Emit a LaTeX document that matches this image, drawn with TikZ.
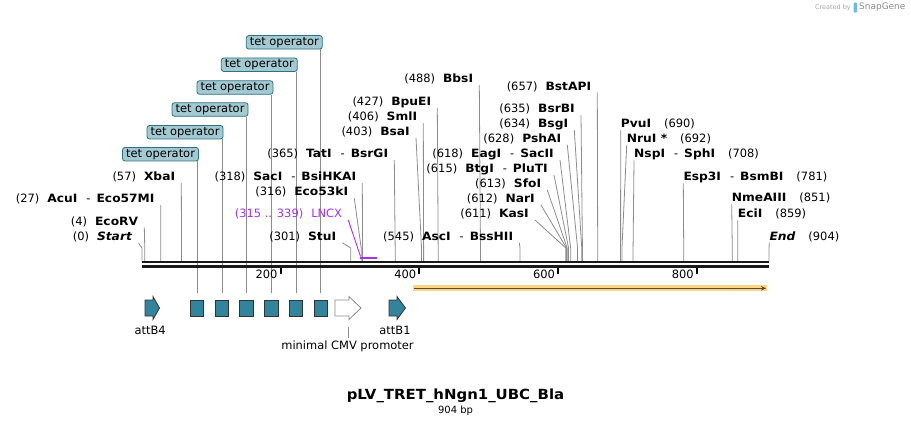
\documentclass[tikz,border=0pt]{standalone}
\usepackage{fontspec}
\setmainfont{DejaVu Sans}[BoldFeatures={FakeStretch=1.07},BoldItalicFeatures={FakeStretch=1.07}]
\usetikzlibrary{calc,arrows.meta}
\definecolor{tetfill}{HTML}{A3C9D2}
\definecolor{tetdraw}{HTML}{2E6F80}
\definecolor{featfill}{HTML}{31849B}
\definecolor{lncx}{HTML}{A330F0}
\definecolor{orfill}{HTML}{FDD584}
\definecolor{orline}{HTML}{5A4A35}
\definecolor{cutline}{HTML}{8C8C8C}
\definecolor{sglogo}{HTML}{6CB8E8}
\newcommand{\bx}[1]{142+#1*0.6936}
\newcommand{\lgap}{\hspace{8bp}}
\newcommand{\rgap}{\hspace{13bp}}
\newcommand{\dsh}{\hspace{9bp}-\hspace{6bp}}
% left labels: name, bp, top of line x, y, text
\newcommand{\enzl}[5]{%
  \coordinate (#1s) at ({\bx{#2}},261);
  \node[lab,anchor=east] (#1) at (#3-6,#4) {#5};
  \draw[cut] ($(#1.east)+(6,6)$) -- ($(#1s)+(0,-13)$) -- (#1s);}
% right labels
\newcommand{\enzr}[5]{%
  \coordinate (#1s) at ({\bx{#2}},261);
  \node[lab,anchor=west] (#1) at (#3,#4) {#5};
  \draw[cut] ($(#1.west)+(0,6)$) -- ($(#1s)+(0,-13)$) -- (#1s);}
\begin{document}
\begin{tikzpicture}[x=1bp,y=-1bp,>=stealth,
  lab/.style={inner sep=0pt,font=\fontsize{11.5}{13}\selectfont},
  cut/.style={draw=cutline,line width=0.8bp},
  tet/.style={draw=tetdraw,fill=tetfill,rounded corners=2.5bp,minimum width=76bp,
    minimum height=13.5bp,inner sep=0pt,line width=0.8bp,font=\fontsize{11.5}{13}\selectfont},
  sqr/.style={draw=black!80,fill=featfill,minimum width=13.5bp,minimum height=16bp,
    inner sep=0pt,line width=0.8bp},
  feat/.style={draw=black!80,fill=featfill,line width=0.8bp},
  bb/.style={line width=2.4bp,black!90}]
\useasboundingbox (0,0) rectangle (911,427);
% tet operators
\foreach \i/\tx/\ty/\qx in {1/160.5/154.2/197,2/185/132.2/222,3/210/109.5/246.3,
  4/235/87.5/271.3,5/259.3/64.7/296,6/284.3/42.3/320.8}{
  \node[tet] (t\i) at (\tx,\ty) {tet operator};
  \node[sqr] (q\i) at (\qx,308) {};
  \draw[cut,shorten >=7bp] (t\i.south -| q\i.north) -- (q\i.north);
}
% enzymes
\enzl{st}{0}{138.5}{237}{(0)\lgap\textbf{\textit{Start}}}
\enzl{ecorv}{4}{144.3}{221.5}{(4)\lgap\textbf{EcoRV}}
\enzl{acui}{27}{160.7}{199}{(27)\lgap\textbf{AcuI}\dsh\textbf{Eco57MI}}
\enzl{xbai}{57}{181.3}{177}{(57)\lgap\textbf{XbaI}}
\enzl{saci}{318}{362.3}{177}{(318)\lgap\textbf{SacI}\dsh\textbf{BsiHKAI}}
\enzl{eco53}{316}{354.3}{192.3}{(316)\lgap\textbf{Eco53kI}}
\enzl{stui}{301}{342.3}{236.7}{(301)\lgap\textbf{StuI}}
\enzl{tati}{365}{394.3}{154}{(365)\lgap\textbf{TatI}\dsh\textbf{BsrGI}}
\enzl{bsai}{403}{416}{131.7}{(403)\lgap\textbf{BsaI}}
\enzl{smli}{406}{423.3}{117}{(406)\lgap\textbf{SmlI}}
\enzl{bpuei}{427}{437.3}{102}{(427)\lgap\textbf{BpuEI}}
\enzl{bbsi}{488}{479.3}{79}{(488)\lgap\textbf{BbsI}}
\enzl{asci}{545}{519.3}{236.7}{(545)\lgap\textbf{AscI}\dsh\textbf{BssHII}}
\enzl{kasi}{611}{535}{214}{(611)\lgap\textbf{KasI}}
\enzl{nari}{612}{541}{199}{(612)\lgap\textbf{NarI}}
\enzl{sfoi}{613}{547.3}{184}{(613)\lgap\textbf{SfoI}}
\enzl{btgi}{615}{554}{169}{(615)\lgap\textbf{BtgI}\dsh\textbf{PluTI}}
\enzl{eagi}{618}{560}{154}{(618)\lgap\textbf{EagI}\dsh\textbf{SacII}}
\enzl{pshai}{628}{567.3}{139}{(628)\lgap\textbf{PshAI}}
\enzl{bsgi}{634}{574.3}{124}{(634)\lgap\textbf{BsgI}}
\enzl{bsrbi}{635}{581}{109}{(635)\lgap\textbf{BsrBI}}
\enzl{bstapi}{657}{597.3}{86.7}{(657)\lgap\textbf{BstAPI}}
\enzr{pvui}{690}{620.7}{124}{\textbf{PvuI}\rgap(690)}
\enzr{nrui}{692}{626.7}{139}{\textbf{NruI *}\rgap(692)}
\enzr{nspi}{708}{634}{154.3}{\textbf{NspI}\dsh\textbf{SphI}\rgap(708)}
\enzr{esp3i}{781}{683.3}{177.3}{\textbf{Esp3I}\dsh\textbf{BsmBI}\rgap(781)}
\enzr{nmeaiii}{851}{731.7}{198.3}{\textbf{NmeAIII}\rgap(851)}
\enzr{ecii}{859}{737.7}{214.3}{\textbf{EciI}\rgap(859)}
\enzr{fin}{904}{769.3}{236.7}{\textbf{\textit{End}}\rgap(904)}
% LNCX
\node[lab,text=lncx,anchor=east] (lncx) at (342.3,214) {(315 .. 339)\lgap LNCX};
\coordinate (lncxs) at ({\bx{315}},256.5);
\draw[lncx,line width=0.9bp] ($(lncx.east)+(6,6)$) -- (lncxs);
\draw[lncx,line width=2.4bp] ({\bx{315}},257.7) -- ({\bx{339}},257.7);
% backbone
\draw[bb] (142,262.2) -- (769,262.2);
\draw[bb] (142,266.5) -- (769,266.5);
\foreach \v in {200,400,600,800}{
  \draw[line width=2bp] ({\bx{\v}},267.7) -- ({\bx{\v}},274);
  \node[lab,anchor=east] (k\v) at ({\bx{\v}-3},274.7) {\v};
}
% features
\draw[feat] (145,300) -- (153,300) -- (153,296.5) -- (159.5,308) -- (153,319.5)
  -- (153,316) -- (145,316) -- cycle;
\node[lab] (b4) at (150.2,330) {attB4};
\draw[draw=black!45,fill=white,line width=0.8bp] (335,300) -- (349,300) -- (349,296.5)
  -- (361,308) -- (349,319.5) -- (349,316) -- (335,316) -- cycle;
\coordinate (cmvt) at (348.3,327);
\node[lab] (cmv) at (347.5,346.5) {minimal CMV promoter};
\draw[cut,shorten >=3bp] (cmvt) -- (cmvt |- cmv.north);
\draw[feat] (389,300) -- (397,300) -- (397,296.5) -- (405.5,308) -- (397,319.5)
  -- (397,316) -- (389,316) -- cycle;
\node[lab] (b1) at (395,330) {attB1};
\fill[orfill] (413,285.3) rectangle (767,291.3);
\draw[orline,line width=1.3bp,-{Stealth[length=5bp,width=4.5bp]}] (414,288.3) -- (766,288.3);
% title
\node[font=\bfseries\fontsize{14}{16}\selectfont,inner sep=0pt] (ttl) at (455.5,396) {pLV\_TRET\_hNgn1\_UBC\_Bla};
\node[font=\fontsize{10}{11}\selectfont,inner sep=0pt] (len) at (455.5,411) {904 bp};
% watermark
\node[font=\fontsize{6.5}{7}\selectfont,text=black!35,anchor=east,inner sep=0pt] (cr) at (851,7.5) {Created by};
\fill[sglogo,rounded corners=1bp] (853.5,2.5) rectangle (857,12.5);
\node[font=\fontsize{9}{10}\selectfont,text=black!45,anchor=west,inner sep=0pt] (sg) at (859,7.5) {SnapGene};
\end{tikzpicture}
\end{document}
